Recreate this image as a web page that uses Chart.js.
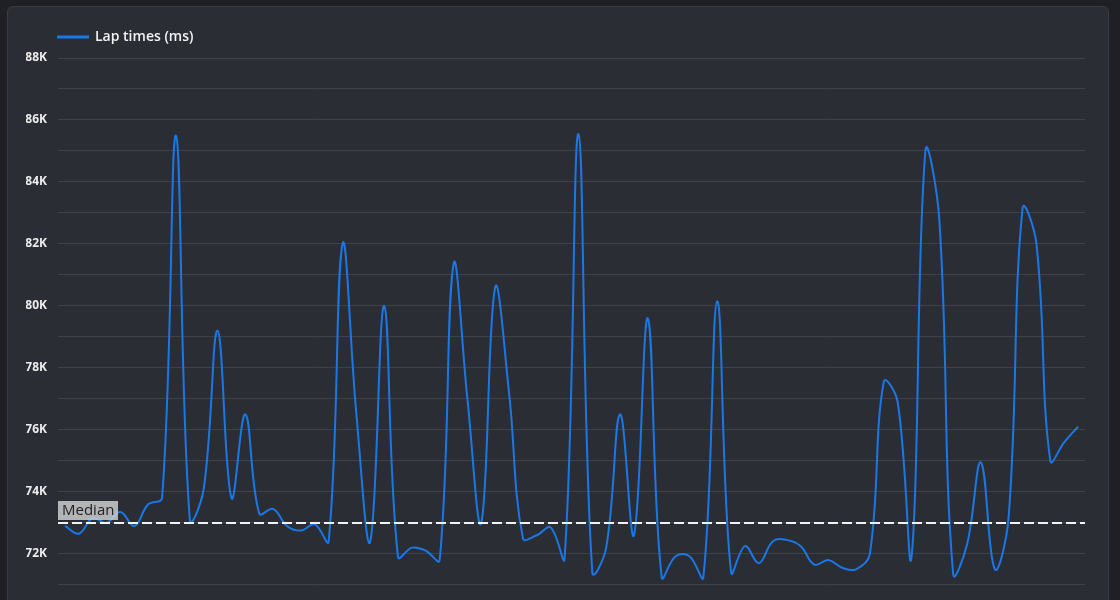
<!DOCTYPE html>
<html>
<head>
<meta charset="utf-8">
<script src="https://cdn.jsdelivr.net/npm/chart.js@4.4.1/dist/chart.umd.min.js"></script>
<style>
html,body{margin:0;padding:0;background:#1f2025;width:1120px;height:600px;overflow:hidden;}
#panel{position:absolute;left:7px;top:6px;width:1102px;height:720px;background:#2b2d35;border:1px solid #3a3c45;border-radius:6px;box-sizing:border-box;}
#c{position:absolute;left:0;top:-2px;width:1120px;height:636px;}
</style>
</head>
<body>
<div id="panel"></div>
<canvas id="c" width="1120" height="636"></canvas>
<script>
const laps = [1,2,3,4,5,6,7,8,9,10,11,12,13,14,15,16,17,18,19,20,21,22,23,24,25,26,27,28,29,30,31,32,33,34,35,36,37,38,39,40,41,42,43,44,45,46,47,48,49,50,51,52,53,54,55,56,57,58,59,60,61,62,63,64,65,66,67,68,69,70,71,72,73,74];
const lapTimes = [
  72900,72650,73150,73000,73350,72900,73600,73800,85500,73100,
  74100,79200,73800,76500,73300,73450,72900,72750,72950,72400,
  82000,76500,72400,80000,71900,72200,72100,71800,81350,77000,
  73000,80600,77200,72500,72600,72850,71850,85550,71400,72200,
  76500,72600,79600,71250,71920,71920,71250,80150,71400,72250,
  71700,72400,72450,72250,71650,71800,71550,71500,72000,77550,
  76900,71900,85000,82800,71350,72300,74950,71500,73200,83150,
  82000,75000,75600,76100
];
const medianLapTime = 73000;
const yTickLabels = ['72K','74K','76K','78K','80K','82K','84K','86K','88K'];
const yTickValues = [72000,74000,76000,78000,80000,82000,84000,86000,88000];

Chart.defaults.font.family = "'Open Sans', 'Noto Sans', sans-serif";

const legendHeightPlugin = {
  id: 'legendHeight',
  beforeLayout(chart) {
    const lg = chart.legend;
    if (lg && !lg._patched) {
      const f = lg.fit;
      lg.fit = function () { f.call(this); this.height = 60; };
      lg._patched = true;
    }
  }
};

const medianPlugin = {
  id: 'medianLine',
  afterDatasetsDraw(chart) {
    const ctx = chart.ctx;
    const y = Math.round(chart.scales.y.getPixelForValue(medianLapTime));
    const {left, right} = chart.chartArea;
    ctx.save();
    ctx.setLineDash([10, 4]);
    ctx.strokeStyle = '#f2f2f2';
    ctx.lineWidth = 2;
    ctx.beginPath();
    ctx.moveTo(left, y);
    ctx.lineTo(right, y);
    ctx.stroke();
    ctx.setLineDash([]);
    ctx.font = "15px 'Open Sans', sans-serif";
    const text = 'Median';
    ctx.fillStyle = 'rgba(210,210,210,0.82)';
    ctx.fillRect(left, y - 22, 60, 19);
    ctx.fillStyle = '#222222';
    ctx.textBaseline = 'middle';
    ctx.textAlign = 'left';
    ctx.fillText(text, left + 4, y - 12);
    ctx.restore();
  }
};

new Chart(document.getElementById('c'), {
  type: 'line',
  data: {
    labels: laps,
    datasets: [{
      label: 'Lap times (ms)',
      data: lapTimes,
      borderColor: '#1a78e6',
      backgroundColor: '#1a78e6',
      borderWidth: 2,
      pointRadius: 0,
      pointHoverRadius: 0,
      tension: 0.4,
      fill: false
    }]
  },
  options: {
    responsive: false,
    maintainAspectRatio: false,
    animation: false,
    devicePixelRatio: 1,
    layout: { padding: { left: 26, right: 35, top: 0, bottom: 10 } },
    plugins: {
      legend: {
        display: true,
        position: 'top',
        align: 'start',
        labels: {
          boxWidth: 30,
          boxHeight: 1,
          padding: 32,
          color: '#f2f2f2',
          font: { size: 14, weight: '600' }
        }
      },
      tooltip: { enabled: false }
    },
    scales: {
      x: {
        display: false,
        offset: true,
        grid: { display: false }
      },
      y: {
        min: 70000,
        max: 88000,
        afterFit(scale) { scale.width = 32; },
        grid: { color: 'rgba(255,255,255,0.1)', drawTicks: false },
        border: { display: false },
        ticks: {
          stepSize: 1000,
          padding: 11,
          color: '#ececec',
          font: { size: 12, weight: 'bold' },
          callback(v) {
            const i = yTickValues.indexOf(v);
            return i >= 0 ? yTickLabels[i] : '';
          }
        }
      }
    }
  },
  plugins: [legendHeightPlugin, medianPlugin]
});
</script>
</body>
</html>
